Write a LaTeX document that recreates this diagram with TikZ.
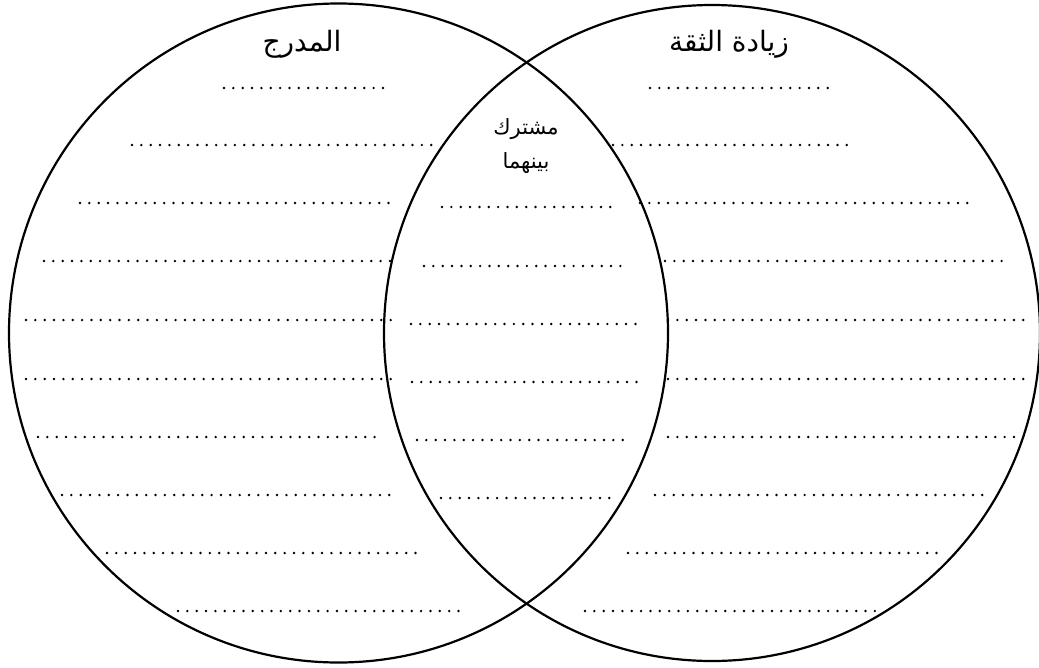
\documentclass[tikz,border=0pt]{standalone}
\usepackage{fontspec}
\TeXXeTstate=1
\newfontfamily\arabicfont[Script=Arabic]{DejaVu Sans}
\begin{document}
\begin{tikzpicture}[x=1pt,y=-1pt,
  vset/.style={circle,draw,line width=2.2pt,inner sep=0pt,outer sep=0pt},
  dotrow/.style={line width=2.7pt,line cap=round,dash pattern=on 0pt off 9.35pt},
  title/.style={font=\arabicfont\fontsize{28}{32}\selectfont,inner sep=0pt},
  midlabel/.style={font=\arabicfont\fontsize{21}{34}\selectfont,inner sep=0pt,align=center}]
\useasboundingbox (0,0) rectangle (1039,667);
\fill[white] (0,0) rectangle (1039,667);
\node[vset,minimum size=659pt] (L) at (338.5,333) {};
\node[vset,minimum size=656pt] (R) at (712,333) {};
\node[title] (tL) at (302,44) {\beginR المدرج\endR};
\node[title] (tR) at (729,44) {\beginR زيادة الثقة\endR};
\node[midlabel] (tM) at (526,146) {\beginR مشترك\endR\\\beginR بينهما\endR};
% left rows
\draw[dotrow] (224,88) -- (383,88);
\draw[dotrow] (132,145) -- (440,145);
\draw[dotrow] (80,203) -- (395,203);
\draw[dotrow] (44,261) -- (395,261);
\draw[dotrow] (26,320) -- (395,320);
\draw[dotrow] (26,379) -- (392,379);
\draw[dotrow] (38,437) -- (383,437);
\draw[dotrow] (62,495) -- (395,495);
\draw[dotrow] (107,553) -- (422,553);
\draw[dotrow] (178,611) -- (462,611);
% middle rows
\draw[dotrow] (442,207) -- (611,207);
\draw[dotrow] (424,266) -- (628,266);
\draw[dotrow] (411,324) -- (640,324);
\draw[dotrow] (412,382) -- (640,382);
\draw[dotrow] (417,440) -- (632,440);
\draw[dotrow] (441,498) -- (611,498);
% right rows
\draw[dotrow] (650,88) -- (828,88);
\draw[dotrow] (613,145) -- (852,145);
\draw[dotrow] (640,203) -- (970,203);
\draw[dotrow] (665,261) -- (1010,261);
\draw[dotrow] (668,320) -- (1026,320);
\draw[dotrow] (668,379) -- (1026,379);
\draw[dotrow] (668,437) -- (1020,437);
\draw[dotrow] (655,495) -- (990,495);
\draw[dotrow] (628,553) -- (945,553);
\draw[dotrow] (585,611) -- (875,611);
\end{tikzpicture}
\end{document}
